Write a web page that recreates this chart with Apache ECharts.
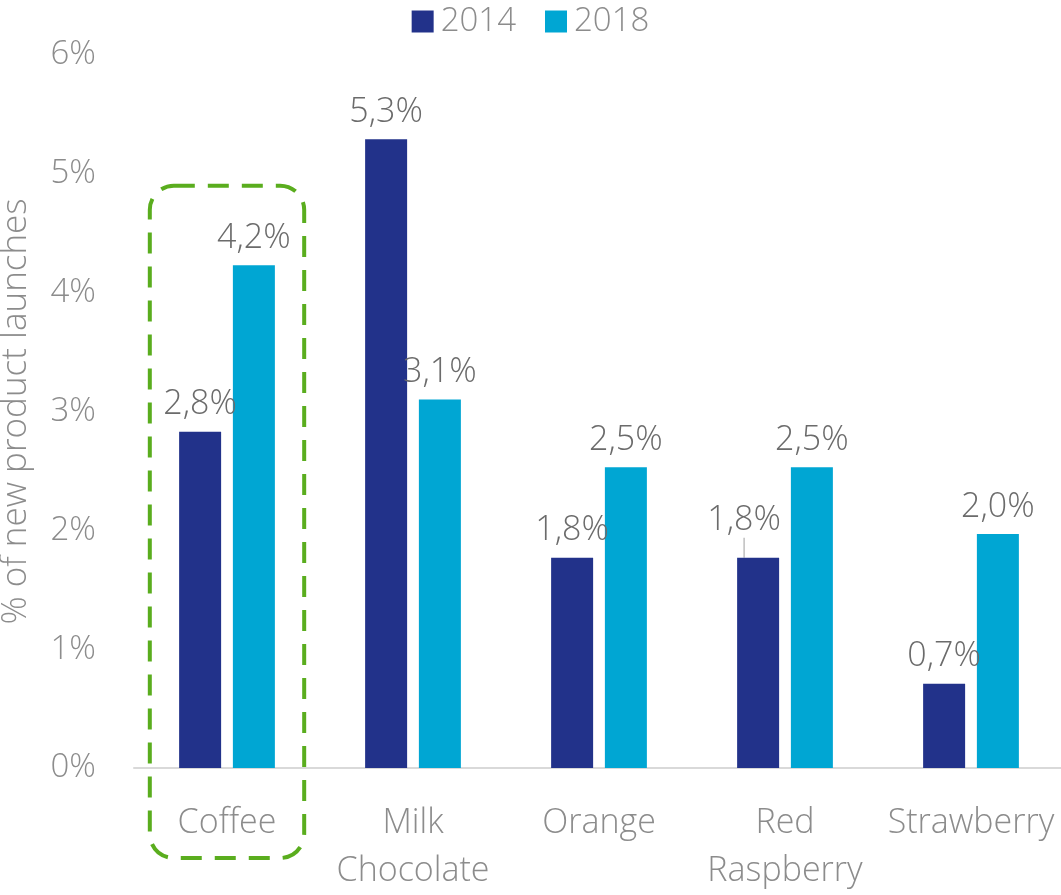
<!DOCTYPE html>
<html>
<head>
<meta charset="utf-8">
<script src="https://cdn.jsdelivr.net/npm/echarts@6/dist/echarts.min.js"></script>
<style>
  html, body { margin: 0; padding: 0; background: #ffffff; }
  #chart { width: 1061px; height: 895px; }
</style>
</head>
<body>
<div id="chart"></div>
<script>
// Share of new product launches by flavour
const categories = ['Coffee', 'Milk\nChocolate', 'Orange', 'Red\nRaspberry', 'Strawberry'];
const values2014 = [2.83, 5.29, 1.77, 1.77, 0.71];
const values2018 = [4.23, 3.10, 2.53, 2.53, 1.97];
const yTicks = [0, 1, 2, 3, 4, 5, 6];

const FONT = '"Open Sans", "Segoe UI", sans-serif';
const AXIS_GREY = '#8c8c8c';
const LABEL_GREY = '#6b6b6b';

const chart = echarts.init(document.getElementById('chart'), null, { renderer: 'canvas' });

const pct = v => v.toFixed(1).replace('.', ',') + '%';

function barLabel() {
  return {
    show: true,
    position: 'top',
    distance: 10,
    fontFamily: FONT,
    fontWeight: 300,
    fontSize: 34,
    color: LABEL_GREY,
    formatter: p => pct(p.value)
  };
}

const option = {
  animation: false,
  textStyle: { fontFamily: FONT },
  legend: {
    top: 0,
    left: 'center',
    itemWidth: 22,
    itemHeight: 22,
    itemGap: 29,
    icon: 'rect',
    textStyle: { fontFamily: FONT, fontWeight: 300, fontSize: 33, color: AXIS_GREY, padding: [0, 0, 0, 2] },
    data: ['2014', '2018']
  },
  grid: { left: 134, right: -3, top: 55, bottom: 127, containLabel: false, outerBoundsMode: 'none' },
  xAxis: {
    type: 'category',
    data: categories,
    axisLine: { lineStyle: { color: '#d9d9d9', width: 2 } },
    axisTick: { show: false },
    axisLabel: {
      fontFamily: FONT,
      fontWeight: 300,
      fontSize: 34,
      color: AXIS_GREY,
      margin: 31,
      lineHeight: 48,
      interval: 0
    }
  },
  yAxis: {
    type: 'value',
    min: 0,
    max: 6,
    interval: 1,
    name: '% of new product launches',
    nameLocation: 'middle',
    nameGap: 100,
    nameTextStyle: { fontFamily: FONT, fontWeight: 300, fontSize: 35, color: AXIS_GREY },
    axisLine: { show: false },
    axisTick: { show: false },
    splitLine: { show: false },
    axisLabel: {
      fontFamily: FONT,
      fontWeight: 300,
      fontSize: 33,
      color: AXIS_GREY,
      margin: 38,
      formatter: v => (yTicks.includes(v) ? v + '%' : '')
    }
  },
  series: [
    {
      name: '2014',
      type: 'bar',
      data: values2014.map((v, i) => i === 3
        ? { value: v, labelLine: { show: true, lineStyle: { color: '#bfbfbf', width: 1.5 } } }
        : v),
      barWidth: 42,
      barGap: '28%',
      itemStyle: { color: '#22328a' },
      label: barLabel(),
      labelLayout: p => (p.dataIndex === 3 ? { dx: -14, dy: -10 } : {})
    },
    {
      name: '2018',
      type: 'bar',
      data: values2018,
      barWidth: 42,
      barGap: '28%',
      itemStyle: { color: '#00a6d3' },
      label: barLabel()
    }
  ]
};

chart.setOption(option);

// Dashed highlight frame around the first category, placed from the axis scale
function drawHighlight() {
  const cx = chart.convertToPixel({ xAxisIndex: 0 }, 0);
  const band = chart.convertToPixel({ xAxisIndex: 0 }, 1) - cx;
  const yTop = chart.convertToPixel({ yAxisIndex: 0 }, 4.9);
  const yBase = chart.convertToPixel({ yAxisIndex: 0 }, 0);
  const w = band * 0.83;
  chart.setOption({
    graphic: [{
      type: 'rect',
      shape: { x: cx - w / 2, y: yTop, width: w, height: yBase + 90 - yTop, r: 24 },
      style: { fill: null, stroke: '#5aad1e', lineWidth: 4, lineDash: [21, 13] },
      z: 10
    }]
  });
}
drawHighlight();
</script>
</body>
</html>
